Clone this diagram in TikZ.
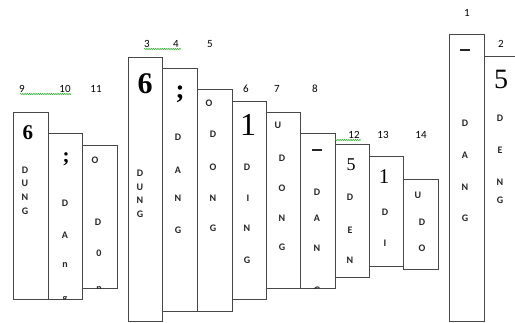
\documentclass[tikz,border=0pt]{standalone}
\usepackage{fontspec}
\setmainfont{Carlito}
\newfontfamily\bigserif{Liberation Serif}
\usetikzlibrary{decorations.pathmorphing}
\begin{document}
\begin{tikzpicture}[x=1pt,y=-1pt,
  box/.style={draw=black!72, line width=0.9pt, fill=white, anchor=north west, inner sep=0pt},
  letter/.style={font=\bfseries\fontsize{10}{10}\selectfont, inner sep=0pt, text=black!85},
  lab/.style={font=\fontsize{11}{11}\selectfont, inner sep=0pt, text=black},
  big/.style={font=\bigserif\fontsize{#1}{#1}\selectfont, inner sep=0pt},
  bar/.style={fill=black!85, inner sep=0pt, minimum width=10pt, minimum height=2.6pt},
  squiggle/.style={draw=green!60!black!80, line width=0.6pt, decorate, decoration={snake, segment length=2.2pt, amplitude=0.6pt}}
]
\useasboundingbox (0,0) rectangle (515,322);

% boxes
\node[box, minimum width=35pt, minimum height=187pt] (b9)  at (13,112) {};
\node[box, minimum width=34pt, minimum height=166pt] (b10) at (48,133) {};
\node[box, minimum width=35pt, minimum height=143pt] (b11) at (82,145) {};
\node[box, minimum width=34pt, minimum height=264pt] (b3)  at (128,57) {};
\node[box, minimum width=35pt, minimum height=243pt] (b4)  at (162,68) {};
\node[box, minimum width=35pt, minimum height=222pt] (b5)  at (197,89) {};
\node[box, minimum width=34pt, minimum height=198pt] (b6)  at (232,101) {};
\node[box, minimum width=34pt, minimum height=176pt] (b7)  at (266,112) {};
\node[box, minimum width=35pt, minimum height=155pt] (b8)  at (300,133) {};
\node[box, minimum width=34pt, minimum height=133pt] (b12) at (335,144) {};
\node[box, minimum width=34pt, minimum height=110pt] (b13) at (369,156) {};
\node[box, minimum width=35pt, minimum height=90pt]  (b14) at (403,179) {};
\node[box, minimum width=35pt, minimum height=287pt] (b1)  at (449,34) {};
\coordinate (b2nw) at (484,56);
\coordinate (b2ne) at (515,56);
\draw[draw=black!72, line width=0.9pt] (b2nw) -- (b2ne);

% big glyphs
\node[big=21] (g9)  at (28,133) {\bfseries 6};
\node[big=21] (g10) at (66,159) {\bfseries ;};
\node[big=30] (g3)  at (145,84) {\bfseries 6};
\node[big=27] (g4)  at (180,94) {\bfseries ;};
\node[big=32] (g6)  at (248,125) {1};
\node[big=18] (g12) at (351,165) {5};
\node[big=21] (g13) at (384,177) {1};
\node[big=28] (g2)  at (501,79) {5};
\node[bar] (g8) at (317,150) {};
\node[bar] (g1) at (465,50) {};

% letters
\foreach \n/\x/\y/\t in {
  a1/25/170/D, a2/25/183/U, a3/25/197/N, a4/25/211/G,
  a5/65/203/D, a6/65/235/A, a7/65/265/n,
  a8/95/160/O, a9/98/222/D, a10/99/253/0,
  a11/140/173/D, a12/140/187/U, a13/140/200/N, a14/140/214/G,
  a15/178/137/D, a16/178/170/A, a17/178/198/N, a18/178/230/G,
  a19/209/103/O, a20/213/134/D, a21/213/167/O, a22/213/198/N, a23/213/228/G,
  a24/247/167/D, a25/248/198/I, a26/247/228/N, a27/247/260/G,
  a28/278/125/U, a29/282/158/D, a30/282/188/O, a31/282/218/N, a32/282/247/G,
  a33/317/192/D, a34/317/218/A, a35/317/248/N,
  a36/350/197/D, a37/350/230/E, a38/350/260/N,
  a39/385/212/D, a40/385/243/I,
  a41/418/195/U, a42/422/222/D, a43/422/248/O,
  a44/465/123/D, a45/465/155/A, a46/465/187/N, a47/465/218/G,
  a48/500/118/D, a49/500/150/E, a50/500/182/N, a51/500/200/G}
  {\node[letter] (\n) at (\x,\y) {\t};}

% clipped letters at box bottoms
\begin{scope}
  \clip (b10.north west) rectangle (b10.south east);
  \node[letter] (c10) at (65,300) {g};
\end{scope}
\begin{scope}
  \clip (b11.north west) rectangle (b11.south east);
  \node[letter] (c11) at (99,289.5) {n};
\end{scope}
\begin{scope}
  \clip (b8.north west) rectangle (b8.south east);
  \node[letter] (c8) at (317,290) {G};
\end{scope}

% labels
\foreach \n/\x/\y/\t in {
  L9/22/89/9, L10/65/89/10, L11/96/89/11,
  L3/147/44/3, L4/176/44/4, L5/210/44/5,
  L6/246/89/6, L7/277/89/7, L8/315/89/8,
  L12/354/135/12, L13/383/135/13, L14/421/135/14,
  L1/467/13/1, L2/501/44/2}
  {\node[lab] (\n) at (\x,\y) {\t};}

% wavy underlines
\coordinate (u1a) at (20,94);  \coordinate (u1b) at (71,94);
\coordinate (u2a) at (144,49); \coordinate (u2b) at (181,49);
\coordinate (u3a) at (335,140); \coordinate (u3b) at (361,140);
\draw[squiggle] (u1a) -- (u1b);
\draw[squiggle] (u2a) -- (u2b);
\draw[squiggle] (u3a) -- (u3b);
\end{tikzpicture}
\end{document}
